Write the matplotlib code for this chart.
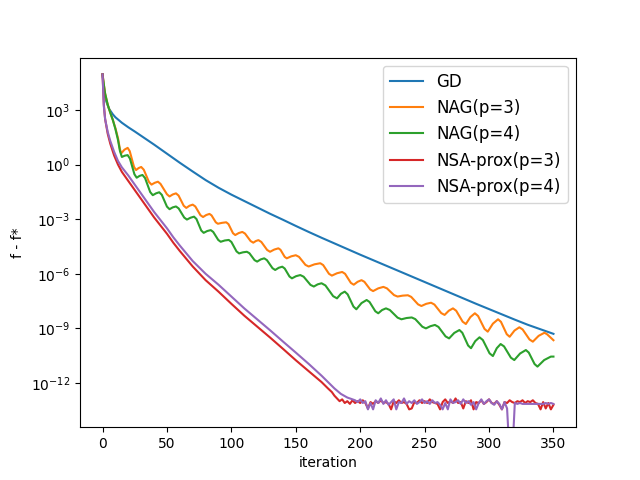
import numpy as np
import matplotlib
matplotlib.use('Agg')
import matplotlib.pyplot as plt

# valores: (iteracion, log10(f - f*))
gd_it = [0, 1, 2, 3, 5, 8, 10, 15, 20, 25, 30, 40, 50, 60, 70, 80, 90, 100,
         110, 120, 130, 140, 150, 160, 170, 180, 190, 200, 210, 220, 230, 240,
         250, 260, 270, 280, 290, 300, 310, 320, 330, 340, 350]
gd_log = [4.96, 4.1, 3.72, 3.45, 3.07, 2.76, 2.6, 2.3, 2.05, 1.82, 1.58, 1.1,
          0.6, 0.1, -0.38, -0.85, -1.27, -1.65, -2.0, -2.35, -2.7, -3.03,
          -3.37, -3.7, -4.02, -4.33, -4.64, -4.95, -5.25, -5.55, -5.85, -6.15,
          -6.45, -6.75, -7.05, -7.35, -7.65, -7.94, -8.23, -8.52, -8.8, -9.05,
          -9.3]

nag3_pts = [(0, 4.96), (1, 4.4), (2, 3.9), (4, 3.3), (6, 2.85), (8, 2.45),
            (10, 2.0), (12, 1.45), (13.5, 0.85), (14.5, 0.62), (17, 0.82),
            (19.5, 0.92), (21.1, 0.74), (24.4, -0.12), (26, -0.3), (28, -0.19),
            (30, -0.13), (32, -0.28), (36, -0.95), (38, -1.1), (40.5, -1.0),
            (43, -0.94), (45, -1.06), (50, -1.63), (52, -1.75), (54.5, -1.64),
            (57, -1.58), (59, -1.7), (63, -2.26), (65, -2.38), (67.5, -2.26),
            (70, -2.2), (72, -2.3), (76, -2.78), (78, -2.88), (80.5, -2.77),
            (83, -2.71), (84.6, -2.79), (87.9, -3.17), (89.5, -3.25), (92.75, -3.2),
            (96, -3.17), (97.75, -3.27), (101.25, -3.77), (103, -3.87),
            (105.75, -3.76), (108.5, -3.7), (110.6, -3.79), (114.9, -4.2),
            (117, -4.29), (119, -4.2), (121, -4.15), (123.25, -4.25),
            (127.75, -4.69), (130, -4.79), (133.25, -4.67), (136.5, -4.6),
            (138.1, -4.68), (141.4, -5.07), (143, -5.15), (146.5, -5.04),
            (150, -4.98), (152.5, -5.07), (157.5, -5.51), (160, -5.6),
            (164.5, -5.48), (169, -5.42), (171.25, -5.52), (175.75, -6.0),
            (178, -6.1), (182, -5.97), (186, -5.9), (188.25, -6.0), (192.75, -6.5),
            (195, -6.6), (198, -6.44), (201, -6.35), (203.25, -6.44),
            (207.75, -6.86), (210, -6.95), (214, -6.8), (218, -6.72),
            (220.75, -6.8), (226.25, -7.17), (229, -7.25), (233, -7.2),
            (237, -7.18), (239.6, -7.27), (244.9, -7.68), (247.5, -7.77),
            (251.25, -7.65), (255, -7.59), (257.6, -7.69), (262.9, -8.16),
            (265.5, -8.26), (268.75, -8.03), (272, -7.9), (274.5, -8.03),
            (279.5, -8.63), (282, -8.76), (285.5, -8.38), (289, -8.17),
            (291.5, -8.32), (296.5, -9.03), (299, -9.18), (303, -8.74),
            (307, -8.5), (309.25, -8.64), (313.75, -9.32), (316, -9.46),
            (319.75, -9.12), (323.5, -8.94), (326.1, -9.06), (331.4, -9.61),
            (334, -9.73), (338.5, -9.41), (343, -9.24), (345, -9.32), (350, -9.65)]

nag4_pts = [(0, 4.96), (1, 4.4), (2, 3.9), (4, 3.3), (6, 2.85), (8, 2.45),
            (10, 1.95), (12, 1.35), (13.5, 0.75), (15, 0.42), (17.25, 0.49),
            (19.5, 0.52), (21.25, 0.33), (24.75, -0.53), (26.5, -0.72),
            (28.75, -0.62), (31, -0.57), (33, -0.74), (37, -1.51), (39, -1.68),
            (41.5, -1.58), (44, -1.52), (46, -1.66), (50, -2.31), (52, -2.45),
            (54.5, -2.35), (57, -2.3), (59.1, -2.41), (63.4, -2.91), (65.5, -3.02),
            (68.25, -2.92), (71, -2.86), (72.9, -2.99), (76.6, -3.62), (78.5, -3.75),
            (81.25, -3.65), (84, -3.6), (85.9, -3.7), (89.8, -4.14), (91.7, -4.24),
            (94.85, -4.17), (98, -4.14), (100, -4.25), (104, -4.77), (106, -4.88),
            (109, -4.82), (112, -4.79), (114, -4.87), (118, -5.25), (120, -5.33),
            (122.75, -5.21), (125.5, -5.15), (127.6, -5.25), (131.9, -5.69),
            (134, -5.79), (136.75, -5.67), (139.5, -5.61), (141.4, -5.71),
            (145.1, -6.15), (147, -6.25), (150.25, -6.13), (153.5, -6.07),
            (156.1, -6.16), (161.4, -6.61), (164, -6.7), (167, -6.58), (170, -6.52),
            (173, -6.64), (179, -7.23), (182, -7.35), (185, -7.1), (188, -6.98),
            (190.25, -7.13), (194.75, -7.8), (197, -7.95), (201, -7.61),
            (205, -7.44), (207.25, -7.55), (211.75, -8.06), (214, -8.17),
            (217, -7.99), (220, -7.9), (223, -7.99), (229, -8.41), (232, -8.5),
            (236, -8.43), (240, -8.4), (242.75, -8.49), (248.25, -8.91),
            (251, -9.0), (254.5, -8.88), (258, -8.81), (260.75, -8.92),
            (266.25, -9.44), (269, -9.55), (273, -9.25), (277, -9.09),
            (279.25, -9.24), (283.75, -9.94), (286, -10.09), (289.3, -9.7),
            (292.6, -9.49), (295.2, -9.64), (300.4, -10.37), (303, -10.52),
            (306, -10.09), (309, -9.86), (311.65, -9.99), (316.95, -10.61),
            (319.6, -10.74), (324.1, -10.38), (328.6, -10.19), (330.85, -10.33),
            (335.35, -10.96), (337.6, -11.1), (342.8, -10.74), (348, -10.55),
            (350, -10.55)]

# NSA-prox: bajada suave y luego ruido en el piso numerico
nsa3_it = [0, 1, 2, 4, 6, 9, 12, 15, 20, 25, 30, 35, 40, 45, 50, 55, 60, 70,
           80, 90, 100, 110, 120, 130, 140, 150, 160, 170, 175, 178, 180]
nsa3_log = [4.96, 3.3, 2.5, 1.7, 1.15, 0.5, 0.0, -0.4, -0.9, -1.4, -1.9, -2.4,
            -2.9, -3.35, -3.8, -4.3, -4.75, -5.6, -6.35, -6.98, -7.65, -8.3,
            -8.9, -9.5, -10.12, -10.75, -11.35, -11.95, -12.3, -12.5, -12.7]
nsa3_noise = [-12.85, -13.0, -12.9, -13.1, -13.0, -13.15, -12.95, -13.1, -13.0,
              -13.1, -12.95, -13.1, -13.4, -13.05, -13.15, -13.0, -13.1, -12.95,
              -13.1, -13.05, -13.15, -13.45, -13.0, -13.1, -12.95, -13.1, -13.05,
              -13.15, -13.45, -13.4, -13.05, -13.1, -12.95, -13.1, -13.0, -13.1,
              -12.9, -13.05, -13.1, -13.15, -13.45, -13.05, -12.9, -13.1, -13.0,
              -13.1, -12.85, -13.1, -13.05, -13.4, -13.0, -13.1, -12.95, -13.45,
              -13.05, -13.1, -12.95, -13.15, -13.05, -12.9, -13.1, -13.15, -13.0,
              -13.2, -13.45, -13.05, -13.1, -12.95, -13.05, -13.1, -13.0, -13.05,
              -12.95, -13.1, -13.0, -13.05, -12.95, -13.1, -13.15, -13.45, -13.05,
              -13.4, -13.1, -13.45, -13.2]   # it = 182, 184, ..., 350

nsa4_it = [0, 1, 2, 4, 6, 9, 12, 15, 20, 25, 30, 35, 40, 45, 50, 55, 60, 70,
           80, 90, 100, 110, 120, 130, 140, 150, 160, 170, 180, 185, 190, 194]
nsa4_log = [4.96, 3.2, 2.5, 1.8, 1.3, 0.7, 0.2, -0.15, -0.6, -1.1, -1.6, -2.1,
            -2.6, -3.05, -3.5, -4.0, -4.45, -5.3, -6.0, -6.6, -7.25, -7.9, -8.5,
            -9.1, -9.72, -10.33, -10.95, -11.6, -12.3, -12.6, -12.8, -12.9]
nsa4_noise = [-12.95, -13.05, -12.9, -13.1, -13.0, -13.45, -13.1, -13.45, -12.95,
              -13.1, -12.85, -13.15, -12.95, -13.2, -13.05, -12.9, -13.45, -13.05,
              -13.1, -12.85, -13.15, -13.0, -13.1, -12.95, -13.15, -13.05, -12.9,
              -13.1, -13.0, -13.15, -12.95, -13.1, -13.05, -13.2, -13.45, -13.1,
              -13.45, -12.9, -13.1, -13.05, -12.95, -13.15, -12.9, -13.1, -13.0,
              -13.2, -13.05, -13.45, -13.1, -12.9, -13.15, -13.0, -12.9, -13.1,
              -13.2, -13.0, -13.15, -13.45, -13.05, -13.4, -16.0, -16.0, -13.1,
              -13.15, -13.1, -13.15, -13.15, -13.15, -13.15, -13.15, -13.15,
              -13.15, -13.15, -13.15, -13.1, -13.15, -13.1, -13.15]  # it = 196, 198, ..., 350

nag3_it, nag3_log = zip(*nag3_pts)
nag4_it, nag4_log = zip(*nag4_pts)
nsa3_x = nsa3_it + list(range(182, 351, 2))
nsa3_y = nsa3_log + nsa3_noise
nsa4_x = nsa4_it + list(range(196, 351, 2))
nsa4_y = nsa4_log + nsa4_noise

fig, ax = plt.subplots(figsize=(6.4, 4.8))

ax.semilogy(gd_it, 10 ** np.array(gd_log), label='GD')
ax.semilogy(nag3_it, 10 ** np.array(nag3_log), label='NAG(p=3)')
ax.semilogy(nag4_it, 10 ** np.array(nag4_log), label='NAG(p=4)')
ax.semilogy(nsa3_x, 10 ** np.array(nsa3_y), label='NSA-prox(p=3)')
ax.semilogy(nsa4_x, 10 ** np.array(nsa4_y), label='NSA-prox(p=4)')

ax.set_ylim(10 ** -14.43, 10 ** 5.88)
ax.set_xlabel('iteration')
ax.set_ylabel('f - f*')
ax.legend(loc='upper right', fontsize=12)

fig.savefig('out.png')
